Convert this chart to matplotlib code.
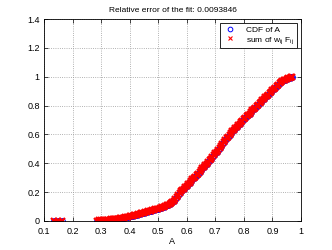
import matplotlib
matplotlib.use('Agg')
import matplotlib.pyplot as plt

plt.rcParams['font.family'] = ['Liberation Sans', 'DejaVu Sans']
plt.rcParams['mathtext.fontset'] = 'custom'
plt.rcParams['mathtext.rm'] = 'Liberation Sans'
plt.rcParams['mathtext.it'] = 'Liberation Sans'

a_vals = [0.135, 0.148, 0.162,
          0.285, 0.292, 0.299, 0.306, 0.313, 0.320, 0.325,
          0.330, 0.335, 0.340, 0.345, 0.350, 0.355, 0.360, 0.365, 0.370, 0.375,
          0.380, 0.385, 0.390, 0.395, 0.400, 0.405, 0.410, 0.415, 0.420, 0.425,
          0.430, 0.435, 0.440, 0.445, 0.450, 0.455, 0.460, 0.465, 0.470, 0.475,
          0.480, 0.485, 0.490, 0.495, 0.500, 0.505, 0.510, 0.515, 0.520, 0.525,
          0.530, 0.535, 0.540, 0.545, 0.550, 0.555, 0.560, 0.565, 0.570, 0.575,
          0.580, 0.585, 0.590, 0.595, 0.600, 0.605, 0.610, 0.615, 0.620, 0.625,
          0.630, 0.635, 0.640, 0.645, 0.650, 0.655, 0.660, 0.665, 0.670, 0.675,
          0.680, 0.685, 0.690, 0.695, 0.700, 0.705, 0.710, 0.715, 0.720, 0.725,
          0.730, 0.735, 0.740, 0.745, 0.750, 0.755, 0.760, 0.765, 0.770, 0.775,
          0.780, 0.785, 0.790, 0.795, 0.800, 0.805, 0.810, 0.815, 0.820, 0.825,
          0.830, 0.835, 0.840, 0.845, 0.850, 0.855, 0.860, 0.865, 0.870, 0.875,
          0.880, 0.885, 0.890, 0.895, 0.900, 0.905, 0.910, 0.915, 0.920, 0.925,
          0.930, 0.935, 0.940, 0.945, 0.950, 0.955, 0.960, 0.965, 0.970]
cdf_a = [0.0, 0.0, 0.0,
         0.003, 0.004, 0.005, 0.006, 0.007, 0.008, 0.009,
         0.010, 0.011, 0.012, 0.013, 0.014, 0.0155, 0.017, 0.0185, 0.020, 0.022,
         0.024, 0.026, 0.028, 0.030, 0.032, 0.0345, 0.037, 0.0395, 0.042, 0.0445,
         0.047, 0.050, 0.053, 0.0555, 0.058, 0.061, 0.064, 0.067, 0.070, 0.0725,
         0.075, 0.0775, 0.080, 0.083, 0.086, 0.0895, 0.093, 0.0965, 0.100, 0.104,
         0.108, 0.112, 0.117, 0.123, 0.130, 0.140, 0.151, 0.164, 0.178, 0.192,
         0.205, 0.215, 0.225, 0.235, 0.245, 0.256, 0.266, 0.277, 0.288, 0.296,
         0.305, 0.317, 0.328, 0.340, 0.352, 0.364, 0.375, 0.386, 0.397, 0.408,
         0.420, 0.432, 0.445, 0.458, 0.470, 0.481, 0.493, 0.505, 0.517, 0.531,
         0.545, 0.559, 0.572, 0.585, 0.598, 0.610, 0.622, 0.632, 0.643, 0.654,
         0.665, 0.675, 0.685, 0.695, 0.705, 0.715, 0.725, 0.735, 0.745, 0.756,
         0.766, 0.776, 0.786, 0.796, 0.806, 0.816, 0.826, 0.836, 0.846, 0.856,
         0.866, 0.875, 0.885, 0.895, 0.905, 0.915, 0.925, 0.935, 0.945, 0.953,
         0.960, 0.967, 0.974, 0.979, 0.984, 0.988, 0.992, 0.996, 1.000]
# fitted mixture sum w_ij F_ij at the same points
fit_vals = list(cdf_a)

title = 'Relative error of the fit: 0.0093846'

fig = plt.figure(figsize=(3.32, 2.5), dpi=100)
ax = fig.add_axes([0.1325, 0.116, 0.774, 0.808])

ax.plot(a_vals, cdf_a, 'o', color='blue', mfc='none', ms=4.2, mew=0.7, label='CDF of A')
ax.plot(a_vals, fit_vals, 'x', color='red', ms=4.0, mew=1.6, label=r'sum of w$_{ij}$ F$_{ij}$')

ax.set_xlim(0.1, 1)
ax.set_ylim(0, 1.4)
ax.set_xticks([0.1, 0.2, 0.3, 0.4, 0.5, 0.6, 0.7, 0.8, 0.9, 1])
ax.set_xticklabels(['0.1', '0.2', '0.3', '0.4', '0.5', '0.6', '0.7', '0.8', '0.9', '1'])
ax.set_yticks([0, 0.2, 0.4, 0.6, 0.8, 1, 1.2, 1.4])
ax.set_yticklabels(['0', '0.2', '0.4', '0.6', '0.8', '1', '1.2', '1.4'])
ax.grid(True, linestyle=':', color='#999999', linewidth=0.6)
ax.tick_params(direction='in', top=True, right=True, labelsize=6.5, length=3, width=0.5)
ax.tick_params(axis='x', pad=4)
ax.tick_params(axis='y', pad=3)
for s in ax.spines.values():
    s.set_linewidth(0.6)

ax.set_xlabel('A', fontsize=6.5, labelpad=1)
ax.set_title(title, fontsize=6, pad=5)

leg = ax.legend(loc='upper right', fontsize=6, frameon=True, fancybox=False,
                framealpha=1, edgecolor='black', borderpad=0.35, handletextpad=1.0,
                handlelength=1.8, labelspacing=0.15, borderaxespad=0.45, markerscale=0.8)
leg.get_frame().set_linewidth(0.6)
leg.legend_handles[1].set_markeredgewidth(0.8)

fig.savefig('out.png', dpi=100)
